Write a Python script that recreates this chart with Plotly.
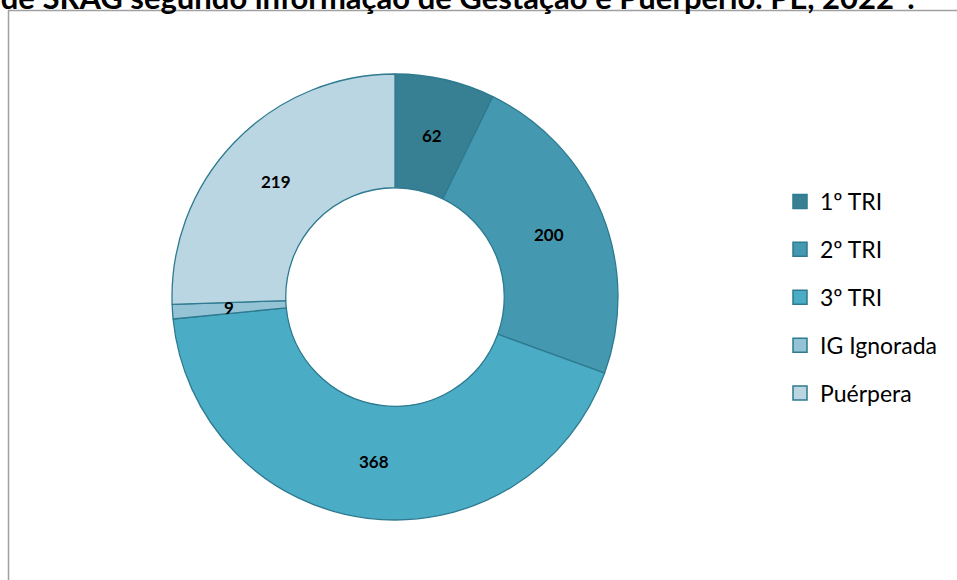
import math
import plotly.graph_objects as go

W, H = 957, 580

categories = ["1º TRI", "2º TRI", "3º TRI", "IG Ignorada", "Puérpera"]
values = [62, 200, 368, 9, 219]
colors = ["#378094", "#4499b1", "#4badc5", "#93c3d4", "#b9d6e2"]
title_text = "Distribuição de SRAG segundo informação de Gestação e Puerpério. PE, 2022*."

FONT = "Lato"
HOLE = 0.49

def px_x(x):
    return x / W

def px_y(y):
    return 1 - y / H

cx, cy, R = 395, 297, 223

fig = go.Figure()
fig.add_trace(go.Pie(
    labels=categories,
    values=values,
    sort=False,
    direction="clockwise",
    rotation=0,
    hole=HOLE,
    marker=dict(colors=colors, line=dict(color="#2e7a90", width=1.3)),
    textinfo="none",
    domain=dict(x=[px_x(cx - R), px_x(cx + R)], y=[px_y(cy + R), px_y(cy - R)]),
    showlegend=False,
    hoverinfo="label+value+percent",
))

# data labels at the middle of each ring segment, derived from the values
total = sum(values)
cum = 0
r_mid = R * (1 + HOLE) / 2
for v in values:
    ang = 2 * math.pi * (cum + v / 2) / total
    cum += v
    lx = cx + r_mid * math.sin(ang)
    ly = cy - r_mid * math.cos(ang)
    fig.add_annotation(text=f"<b>{v}</b>", xref="paper", yref="paper",
                       x=px_x(lx), y=px_y(ly), xanchor="center", yanchor="middle",
                       showarrow=False,
                       font=dict(family=FONT, size=17, color="black"))

for i, (cat, col) in enumerate(zip(categories, colors)):
    fig.add_trace(go.Scatter(
        x=[None], y=[None], mode="markers", name=cat,
        legendgroup=f"g{i}",
        marker=dict(symbol="square", size=14, color=col,
                    line=dict(color="#2e7a90", width=1.5)),
    ))

fig.add_shape(type="rect", xref="paper", yref="paper",
              x0=px_x(8.5), x1=px_x(980), y0=px_y(600), y1=px_y(10.5),
              line=dict(color="#a0a0a0", width=1.5), fillcolor="rgba(0,0,0,0)")

fig.add_annotation(text=f"<b>{title_text}</b>", xref="paper", yref="paper",
                   x=px_x(917), y=px_y(-3), xanchor="right", yanchor="middle",
                   showarrow=False,
                   font=dict(family=FONT, size=31, color="black"))

fig.update_layout(
    width=W, height=H,
    margin=dict(l=0, r=0, t=0, b=0),
    paper_bgcolor="white", plot_bgcolor="white",
    xaxis=dict(visible=False), yaxis=dict(visible=False),
    legend=dict(x=px_x(780), y=px_y(180), xanchor="left", yanchor="top",
                font=dict(family=FONT, size=23, color="black"),
                tracegroupgap=15, bgcolor="rgba(0,0,0,0)"),
)

fig.write_html("out.html")
